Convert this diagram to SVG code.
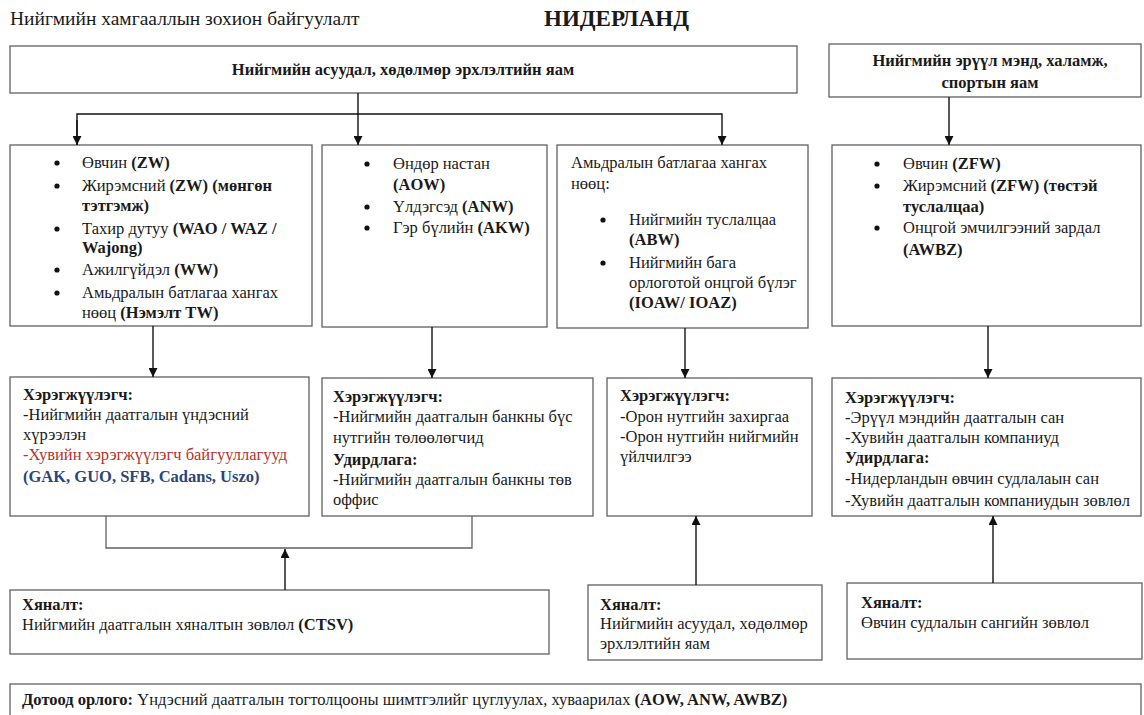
<svg xmlns="http://www.w3.org/2000/svg" width="1144" height="715" viewBox="0 0 1144 715" font-family="'Liberation Serif', 'DejaVu Serif', serif">
<defs>
<style>
text{font-family:'Liberation Serif','DejaVu Serif',serif;font-size:16.5px;fill:#1a1a1a}
.b{font-weight:bold}
.dot{fill:#111}
.box{fill:#fff;stroke:#606060;stroke-width:1.3}
.ln{fill:none;stroke:#111;stroke-width:1.4}
.red{fill:#b5332e}
.blue{fill:#2b4677;font-weight:bold}
</style>
<marker id="ah" viewBox="0 0 10 10" refX="10" refY="5" markerWidth="9" markerHeight="9" markerUnits="userSpaceOnUse" orient="auto">
<path d="M0,0 L10,5 L0,10 z" fill="#111"/>
</marker>
</defs>
<rect width="1144" height="715" fill="#fff"/>

<text x="10" y="25" style="font-size:19.5px">Нийгмийн хамгааллын зохион байгуулалт</text>
<text x="544" y="26" class="b" style="font-size:23px">НИДЕРЛАНД</text>

<g id="ministry1">
<rect class="box" x="10" y="46" width="787" height="47"/>
<text x="403" y="75" class="b" text-anchor="middle">Нийгмийн асуудал, хөдөлмөр эрхлэлтийн яам</text>
</g>

<g id="ministry2">
<rect class="box" x="829" y="44" width="312" height="53"/>
<text x="990" y="66" class="b" text-anchor="middle">Нийгмийн эрүүл мэнд, халамж,</text>
<text x="990" y="88" class="b" text-anchor="middle">спортын яам</text>
</g>

<g id="schemesA">
<rect class="box" x="10" y="145" width="302" height="181"/>
<circle class="dot" cx="57" cy="163" r="2.6"/><text x="82" y="168">Өвчин <tspan class="b">(ZW)</tspan></text>
<circle class="dot" cx="57" cy="186" r="2.6"/><text x="82" y="191">Жирэмсний <tspan class="b">(ZW) (мөнгөн</tspan></text>
<text x="82" y="211" class="b">тэтгэмж)</text>
<circle class="dot" cx="57" cy="229" r="2.6"/><text x="82" y="234">Тахир дутуу <tspan class="b">(WAO / WAZ /</tspan></text>
<text x="82" y="253" class="b">Wajong)</text>
<circle class="dot" cx="57" cy="270" r="2.6"/><text x="82" y="275">Ажилгүйдэл <tspan class="b">(WW)</tspan></text>
<circle class="dot" cx="57" cy="293" r="2.6"/><text x="82" y="298">Амьдралын батлагаа хангах</text>
<text x="82" y="318">нөөц  <tspan class="b">(Нэмэлт TW)</tspan></text>
</g>

<g id="schemesB">
<rect class="box" x="322" y="145" width="225" height="182"/>
<circle class="dot" cx="367" cy="164" r="2.6"/><text x="393" y="169">Өндөр настан</text>
<text x="393" y="190" class="b">(AOW)</text>
<circle class="dot" cx="367" cy="207" r="2.6"/><text x="393" y="212">Үлдэгсэд <tspan class="b">(ANW)</tspan></text>
<circle class="dot" cx="367" cy="228" r="2.6"/><text x="393" y="233">Гэр бүлийн <tspan class="b">(AKW)</tspan></text>
</g>

<g id="schemesC">
<rect class="box" x="557" y="145" width="251" height="183"/>
<text x="571" y="168">Амьдралын батлагаа хангах</text>
<text x="571" y="189">нөөц:</text>
<circle class="dot" cx="603" cy="220" r="2.6"/><text x="629" y="225">Нийгмийн туслалцаа</text>
<text x="629" y="245" class="b">(ABW)</text>
<circle class="dot" cx="603" cy="263" r="2.6"/><text x="629" y="268">Нийгмийн бага</text>
<text x="629" y="288">орлоготой онцгой бүлэг</text>
<text x="629" y="308" class="b">(IOAW/ IOAZ)</text>
</g>

<g id="schemesD">
<rect class="box" x="832" y="145" width="309" height="181"/>
<circle class="dot" cx="877" cy="164" r="2.6"/><text x="903" y="169">Өвчин <tspan class="b">(ZFW)</tspan></text>
<circle class="dot" cx="877" cy="186" r="2.6"/><text x="903" y="191">Жирэмсний <tspan class="b">(ZFW) (төстэй</tspan></text>
<text x="903" y="212" class="b">туслалцаа)</text>
<circle class="dot" cx="877" cy="228" r="2.6"/><text x="903" y="233">Онцгой эмчилгээний зардал</text>
<text x="903" y="255" class="b">(AWBZ)</text>
</g>

<g id="execA">
<rect class="box" x="10" y="377" width="299" height="139"/>
<text x="23" y="400" class="b" textLength="110" lengthAdjust="spacingAndGlyphs">Хэрэгжүүлэгч:</text>
<text x="23" y="420">-Нийгмийн даатгалын үндэсний</text>
<text x="23" y="440">хүрээлэн</text>
<text x="23" y="460" class="red">-Хувийн хэрэгжүүлэгч байгууллагууд</text>
<text x="23" y="482" class="blue">(GAK, GUO, SFB, Cadans, Uszo)</text>
</g>

<g id="execB">
<rect class="box" x="322" y="378" width="271" height="138"/>
<text x="333" y="402" class="b" textLength="110" lengthAdjust="spacingAndGlyphs">Хэрэгжүүлэгч:</text>
<text x="333" y="422">-Нийгмийн даатгалын банкны бүс</text>
<text x="333" y="443">нутгийн төлөөлөгчид</text>
<text x="333" y="465" class="b">Удирдлага:</text>
<text x="333" y="485">-Нийгмийн даатгалын банкны төв</text>
<text x="333" y="505">оффис</text>
</g>

<g id="execC">
<rect class="box" x="607" y="378" width="205" height="138"/>
<text x="620" y="401" class="b" textLength="110" lengthAdjust="spacingAndGlyphs">Хэрэгжүүлэгч:</text>
<text x="620" y="422">-Орон нутгийн захиргаа</text>
<text x="620" y="442">-Орон нутгийн нийгмийн</text>
<text x="620" y="462">үйлчилгээ</text>
</g>

<g id="execD">
<rect class="box" x="832" y="378" width="309" height="138"/>
<text x="845" y="403" class="b" textLength="110" lengthAdjust="spacingAndGlyphs">Хэрэгжүүлэгч:</text>
<text x="845" y="423">-Эрүүл мэндийн даатгалын сан</text>
<text x="845" y="443">-Хувийн даатгалын компаниуд</text>
<text x="845" y="463" class="b">Удирдлага:</text>
<text x="845" y="484">-Нидерландын өвчин судлалаын сан</text>
<text x="845" y="506">-Хувийн даатгалын компаниудын зөвлөл</text>
</g>

<g id="controlA">
<rect class="box" x="10" y="590" width="539" height="64"/>
<text x="22" y="610" class="b">Хяналт:</text>
<text x="22" y="630">Нийгмийн даатгалын хяналтын зөвлөл <tspan class="b">(CTSV)</tspan></text>
</g>

<g id="controlC">
<rect class="box" x="588" y="585" width="234" height="75"/>
<text x="600" y="610" class="b">Хяналт:</text>
<text x="600" y="629">Нийгмийн асуудал, хөдөлмөр</text>
<text x="600" y="649">эрхлэлтийн яам</text>
</g>

<g id="controlD">
<rect class="box" x="847" y="583" width="295" height="76"/>
<text x="861" y="608" class="b">Хяналт:</text>
<text x="861" y="628">Өвчин судлалын сангийн зөвлөл</text>
</g>

<g id="income">
<rect class="box" x="10" y="684" width="1131" height="40"/>
<text x="22" y="705"><tspan class="b">Дотоод орлого:</tspan> Үндэсний даатгалын тогтолцооны шимтгэлийг цуглуулах, хуваарилах <tspan class="b">(AOW, ANW, AWBZ)</tspan></text>
</g>

<g id="connectors">
<line class="ln" x1="358" y1="93" x2="358" y2="145" marker-end="url(#ah)"/>
<polyline class="ln" points="77,145 77,114 722,114 722,145" marker-end="url(#ah)"/>
<line class="ln" x1="77" y1="120" x2="77" y2="145" marker-end="url(#ah)"/>
<line class="ln" x1="949" y1="97" x2="949" y2="145" marker-end="url(#ah)"/>
<line class="ln" x1="153" y1="326" x2="153" y2="377" marker-end="url(#ah)"/>
<line class="ln" x1="432" y1="327" x2="432" y2="378" marker-end="url(#ah)"/>
<line class="ln" x1="685" y1="328" x2="685" y2="378" marker-end="url(#ah)"/>
<line class="ln" x1="988" y1="326" x2="988" y2="378" marker-end="url(#ah)"/>
<polyline points="106,516 106,548 472,548 472,516" fill="none" stroke="#606060" stroke-width="1.3"/>
<line class="ln" x1="285" y1="590" x2="285" y2="549" marker-end="url(#ah)"/>
<line class="ln" x1="696" y1="585" x2="696" y2="516" marker-end="url(#ah)"/>
<line class="ln" x1="993" y1="583" x2="993" y2="516" marker-end="url(#ah)"/>
</g>
</svg>
